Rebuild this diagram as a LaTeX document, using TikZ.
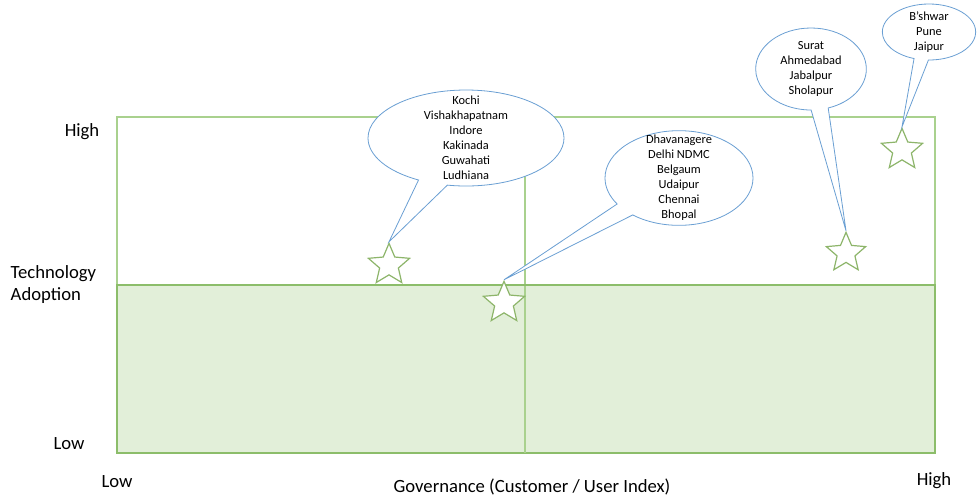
\documentclass[tikz,border=0pt]{standalone}
\usepackage{fontspec}
\setmainfont{Carlito}
\usepackage{xcolor}
\usetikzlibrary{shapes.geometric,shapes.callouts}
\definecolor{gridgreen}{HTML}{A9D18E}
\definecolor{linegreen}{HTML}{8CBD6A}
\definecolor{lowfill}{HTML}{E2EFD9}
\definecolor{starline}{HTML}{8DB56A}
\definecolor{bubbleblue}{HTML}{6A9FD3}

\begin{document}
\begin{tikzpicture}[x=0.75pt,y=-0.75pt,
		city/.style={star, star points=5, star point ratio=2.2, draw=starline, fill=white, line width=0.9pt, minimum size=32.5pt, inner sep=0pt},
		bubble/.style={ellipse callout, draw=bubbleblue, fill=white, line width=0.6pt, inner sep=0pt, callout pointer arc=18},
		names/.style={align=center, font=\fontsize{9.3}{11.25}\selectfont},
		axis/.style={font=\fontsize{14}{16.5}\selectfont}]
		\useasboundingbox (0,0) rectangle (977,497);
		% quadrants
		\fill[lowfill] (117,285) rectangle (935,453);
		\draw[gridgreen, line width=1pt] (117,117) rectangle (935,453);
		\draw[linegreen, line width=0.8pt] (117,285) rectangle (935,453);
		\draw[gridgreen, line width=1pt] (525,117) -- (525,453);
		\draw[linegreen, line width=1.6pt] (117,285) -- (935,285);
		% axis labels
		\node[axis, anchor=east] (yhigh) at (104,132) {High};
		\node[axis, align=left, anchor=west] (ytitle) at (6,285) {Technology\\Adoption};
		\node[axis] (ylow) at (69,444) {Low};
		\node[axis] (xlow) at (117,482) {Low};
		\node[axis] (xtitle) at (532,487) {Governance (Customer / User Index)};
		\node[axis] (xhigh) at (934,481) {High};
		% cities
		\node[city] (s1) at (389,265) {};
		\node[city] (s2) at (504,303) {};
		\node[city, minimum size=31pt] (s3) at (846,253) {};
		\node[city] (s4) at (902,150) {};
		\node[bubble, minimum width=147pt, minimum height=72pt, callout absolute pointer={(s1.north)}] (b1) at (466,138) {};
		\node[names] at (b1.center) {Kochi\\Vishakhapatnam\\Indore\\Kakinada\\Guwahati\\Ludhiana};
		\node[bubble, minimum width=111pt, minimum height=71pt, callout absolute pointer={(s2.north)}] (b2) at (679,178) {};
		\node[names] at (b2.center) {Dhavanagere\\Delhi NDMC\\Belgaum\\Udaipur\\Chennai\\Bhopal};
		\node[bubble, minimum width=83pt, minimum height=61.5pt, callout absolute pointer={(s3.north)}] (b3) at (811,69) {};
		\node[names] at (b3.center) {Surat\\Ahmedabad\\Jabalpur\\Sholapur};
		\node[bubble, minimum width=70pt, minimum height=42pt, callout absolute pointer={(s4.north)}] (b4) at (929,32) {};
		\node[names] at (b4.center) {B'shwar\\Pune\\Jaipur};
	\end{tikzpicture}
\end{document}
